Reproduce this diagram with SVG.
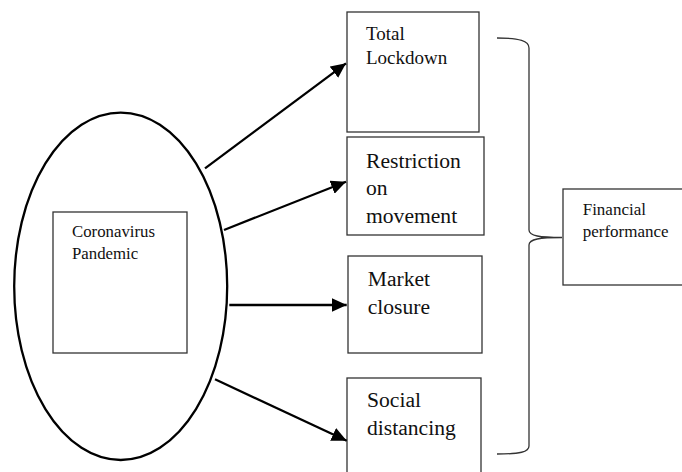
<svg xmlns="http://www.w3.org/2000/svg" width="682" height="472" viewBox="0 0 682 472">
<style>
.box{fill:#fff;stroke:#333;stroke-width:1.3}
.t{fill:#111}
.conn{stroke:#000;stroke-width:2.3;fill:none}
</style>
<defs>
<marker id="ah" markerUnits="userSpaceOnUse" markerWidth="16" markerHeight="14" refX="15" refY="7" orient="auto">
<path d="M0,0 L15,7 L0,14 z" fill="#000"/>
</marker>
</defs>
<rect width="682" height="472" fill="#fff"/>
<g id="pandemic">
<ellipse cx="120.7" cy="286.3" rx="106.5" ry="173.7" fill="#fff" stroke="#000" stroke-width="2.3"/>
<rect class="box" x="53" y="212" width="134" height="141"/>
<text class="t" font-family="Liberation Serif, Times New Roman, DejaVu Serif, serif" font-size="16.8"><tspan x="72" y="236.5">Coronavirus</tspan><tspan x="72" y="259">Pandemic</tspan></text>
</g>
<g id="lockdown">
<rect class="box" x="347" y="12" width="132" height="120"/>
<text class="t" font-family="Liberation Serif, Times New Roman, DejaVu Serif, serif" font-size="19"><tspan x="366" y="40">Total</tspan><tspan x="366" y="64.3">Lockdown</tspan></text>
</g>
<g id="restriction">
<rect class="box" x="347" y="137" width="137" height="98"/>
<text class="t" font-family="Liberation Serif, Times New Roman, DejaVu Serif, serif" font-size="21.6"><tspan x="366" y="167.7">Restriction</tspan><tspan x="366" y="195">on</tspan><tspan x="366" y="222.7">movement</tspan></text>
</g>
<g id="market">
<rect class="box" x="348" y="256" width="134" height="97"/>
<text class="t" font-family="Liberation Serif, Times New Roman, DejaVu Serif, serif" font-size="21.6"><tspan x="367.7" y="285.7">Market</tspan><tspan x="367.7" y="314">closure</tspan></text>
</g>
<g id="social">
<rect class="box" x="347" y="378" width="134" height="110"/>
<text class="t" font-family="Liberation Serif, Times New Roman, DejaVu Serif, serif" font-size="21.6"><tspan x="367" y="407.3">Social</tspan><tspan x="367" y="435">distancing</tspan></text>
</g>
<g id="financial">
<rect class="box" x="563" y="189" width="130" height="96"/>
<text class="t" font-family="Liberation Serif, Times New Roman, DejaVu Serif, serif" font-size="17"><tspan x="582.7" y="215">Financial</tspan><tspan x="582.7" y="236.5">performance</tspan></text>
</g>
<g id="connectors">
<line class="conn" x1="205" y1="168.3" x2="346" y2="63.3" marker-end="url(#ah)"/>
<line class="conn" x1="224" y1="230" x2="346" y2="181.7" marker-end="url(#ah)"/>
<line class="conn" x1="229.3" y1="305" x2="346.7" y2="305" marker-end="url(#ah)"/>
<line class="conn" x1="215" y1="379.3" x2="346.7" y2="440.7" marker-end="url(#ah)"/>
<path d="M497,38 C520,38 529,41 529,48 L529,230 C529,236 540,237.5 562,237.5 C540,237.5 529,239 529,245 L529,446 C529,452 520,454 497,454" fill="none" stroke="#333" stroke-width="1.3"/>
</g>
</svg>
